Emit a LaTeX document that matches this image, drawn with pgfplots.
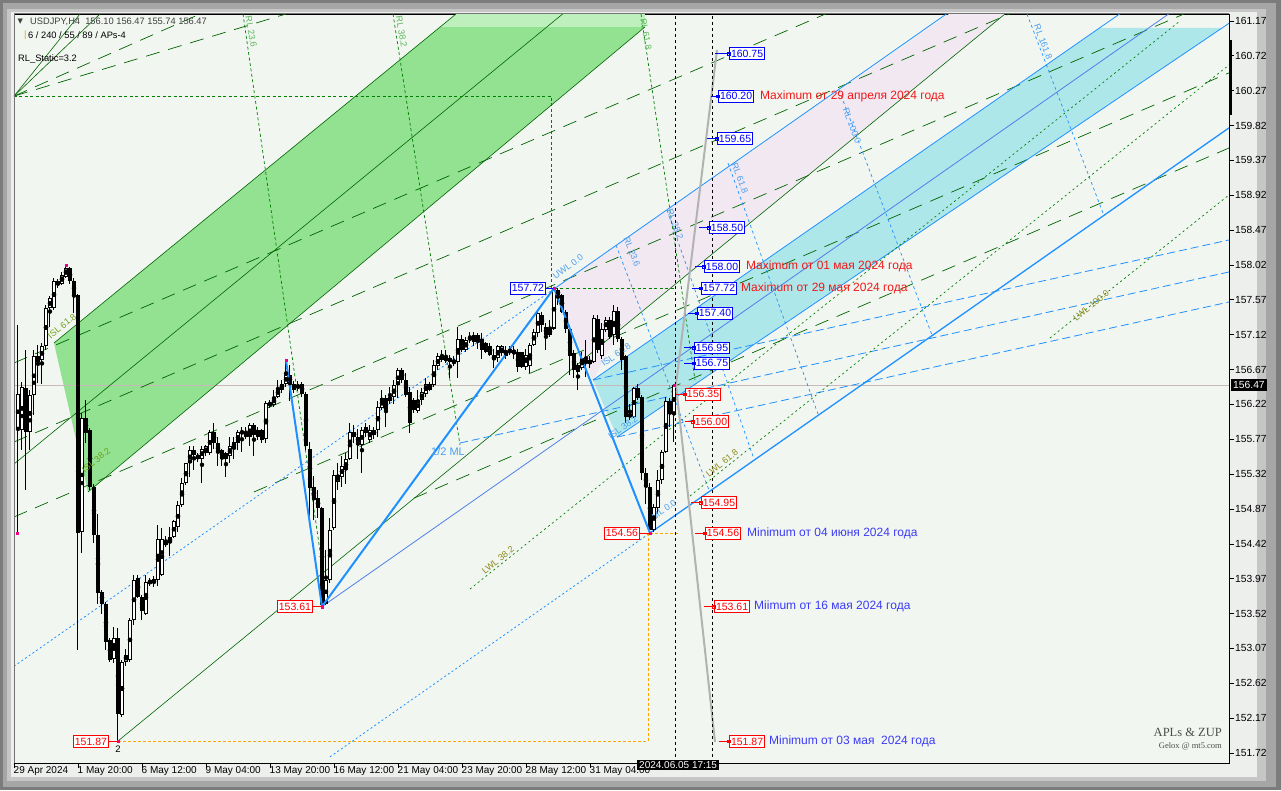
\documentclass[border=0pt]{standalone}
\usepackage{fontspec}
\setmainfont{Liberation Sans}
\newfontfamily\seriffont{Liberation Serif}
\newfontfamily\dejavu{DejaVu Sans}
\usepackage{pgfplots}
\usepackage{pgfplotstable}
\pgfplotsset{compat=1.18}
\newcommand\fs[1]{\fontsize{#1}{#1}\selectfont}
\definecolor{plotbg}{HTML}{F2F6F1}
\definecolor{frameA}{HTML}{7C7C7C}
\definecolor{frameB}{HTML}{A6A6A6}
\definecolor{frameC}{HTML}{C6C6C6}
\definecolor{labelbg}{HTML}{EDEFED}
\definecolor{bandgreen}{HTML}{92E292}
\definecolor{bandgreenlt}{HTML}{BDF0BD}
\definecolor{bandcyan}{HTML}{AEE7EA}
\definecolor{lav}{HTML}{F1E8F2}
\definecolor{dblue}{HTML}{1E90FF}
\definecolor{dgreen}{HTML}{006400}
\definecolor{mgreen}{HTML}{008000}
\definecolor{lgreentext}{HTML}{5CB85C}
\definecolor{olivet}{HTML}{8A8A1A}
\definecolor{lbluetext}{HTML}{4A9FF0}
\definecolor{labblue}{HTML}{0000FF}
\definecolor{labred}{HTML}{FF0000}
\definecolor{txtblue}{HTML}{3B3BF5}
\definecolor{txtred}{HTML}{F01818}
\definecolor{orng}{HTML}{FFA500}
\definecolor{medline}{HTML}{4F7FE8}
\definecolor{curline}{HTML}{C8B8B8}
\definecolor{grayline}{HTML}{B2B2B2}

\pgfplotstableread{
x o h l c
1 155.90 157.25 154.56 156.35
2 155.89 156.51 155.63 156.45
3 156.43 156.92 155.12 155.87
4 155.87 156.40 155.63 156.34
5 156.34 156.92 156.08 156.84
6 156.84 156.99 156.50 156.77
7 156.79 157.01 156.49 156.97
8 156.97 157.50 156.92 157.46
9 157.46 157.62 157.22 157.59
10 157.46 157.85 157.44 157.81
11 157.81 157.84 157.72 157.76
12 157.78 157.93 157.76 157.89
13 157.87 158.02 157.85 157.98
14 157.98 158.00 157.78 157.81
15 157.81 157.85 157.40 157.63
16 157.63 157.65 153.05 154.56
17 154.58 156.11 154.30 156.04
18 156.04 156.28 155.72 155.85
19 155.89 155.92 155.12 155.16
20 155.16 155.20 154.43 154.54
21 154.54 154.81 153.65 153.78
22 153.80 153.82 153.52 153.65
23 153.65 153.67 153.05 153.16
24 153.18 153.20 152.90 152.92
25 152.94 153.35 152.88 153.20
26 153.20 153.33 151.87 152.23
27 152.21 152.92 152.19 152.90
28 152.90 153.07 152.84 152.99
29 152.92 153.46 152.90 153.44
30 153.44 154.02 153.37 153.96
31 153.98 154.02 153.72 153.74
32 153.74 153.76 153.44 153.55
33 153.52 154.02 153.50 153.93
34 153.91 153.98 153.87 153.95
35 153.91 154.00 153.86 153.97
36 153.95 154.66 153.87 154.49
37 154.02 154.62 154.00 154.49
38 154.45 154.52 154.38 154.41
39 154.43 154.64 154.26 154.51
40 154.51 154.73 154.49 154.71
41 154.64 154.97 154.58 154.92
42 154.92 155.27 154.90 155.20
43 155.20 155.46 155.18 155.46
44 155.46 155.68 155.29 155.63
45 155.63 155.68 155.37 155.57
46 155.57 155.60 155.48 155.52
47 155.52 155.68 155.20 155.65
48 155.59 155.70 155.55 155.68
49 155.59 155.89 155.57 155.87
50 155.87 155.98 155.65 155.72
51 155.72 155.80 155.42 155.59
52 155.63 155.65 155.42 155.52
53 155.59 155.61 155.29 155.52
54 155.55 155.80 155.46 155.68
55 155.65 155.80 155.52 155.74
56 155.72 155.89 155.63 155.87
57 155.87 155.93 155.61 155.85
58 155.80 155.93 155.78 155.87
59 155.80 155.98 155.68 155.96
60 155.96 155.98 155.55 155.83
61 155.89 155.93 155.76 155.80
62 155.89 155.91 155.72 155.76
63 155.78 156.26 155.72 156.24
64 156.24 156.28 156.17 156.21
65 156.21 156.41 156.19 156.32
66 156.32 156.54 156.30 156.43
67 156.41 156.54 156.37 156.49
68 156.49 156.79 156.45 156.60
69 156.60 156.73 156.26 156.49
70 156.49 156.52 156.37 156.41
71 156.47 156.52 156.39 156.43
72 156.49 156.51 156.32 156.36
73 156.36 156.38 155.63 155.68
74 155.65 155.74 154.77 155.14
75 155.16 155.29 154.73 154.99
76 155.01 155.12 154.75 154.88
77 154.88 154.90 153.61 153.63
78 153.65 154.34 153.63 153.95
79 153.95 154.75 153.91 154.60
80 154.62 155.37 154.60 155.31
81 155.22 155.46 155.12 155.31
82 155.29 155.55 155.16 155.42
83 155.37 155.59 155.20 155.52
84 155.52 155.98 155.50 155.87
85 155.87 155.95 155.72 155.80
86 155.80 155.91 155.52 155.74
87 155.70 155.93 155.33 155.89
88 155.85 155.98 155.80 155.93
89 155.76 155.95 155.72 155.89
90 155.89 155.93 155.78 155.82
91 155.89 156.26 155.80 156.19
92 156.17 156.41 156.15 156.30
93 156.30 156.34 155.93 156.15
94 156.26 156.45 156.23 156.32
95 156.32 156.54 156.23 156.47
96 156.47 156.69 156.30 156.66
97 156.66 156.69 156.50 156.54
98 156.54 156.62 156.32 156.34
99 156.38 156.45 155.85 155.98
100 156.28 156.30 156.11 156.15
101 156.13 156.41 156.11 156.28
102 156.28 156.43 156.21 156.38
103 156.36 156.56 156.32 156.49
104 156.49 156.51 156.39 156.41
105 156.47 156.79 156.45 156.73
106 156.71 156.88 156.66 156.84
107 156.79 156.92 156.77 156.86
108 156.82 156.92 156.75 156.79
109 156.77 156.86 156.56 156.82
110 156.79 156.84 156.71 156.75
111 156.77 157.22 156.56 157.07
112 157.07 157.12 156.90 156.92
113 156.92 157.09 156.90 157.05
114 157.05 157.16 157.01 157.09
115 157.03 157.16 156.97 157.12
116 157.12 157.14 156.94 157.03
117 157.07 157.14 156.81 156.92
118 157.01 157.03 156.88 156.90
119 156.97 157.01 156.84 156.86
120 156.86 156.94 156.69 156.79
121 156.82 156.99 156.77 156.97
122 156.88 156.99 156.84 156.97
123 156.84 156.97 156.81 156.92
124 156.92 156.97 156.86 156.90
125 156.88 156.97 156.81 156.92
126 156.90 156.94 156.64 156.71
127 156.90 156.90 156.69 156.71
128 156.71 156.94 156.66 156.86
129 156.71 157.01 156.62 156.99
130 156.99 157.20 156.97 157.16
131 157.14 157.44 157.09 157.40
132 157.37 157.42 157.16 157.25
133 157.22 157.27 156.92 157.12
134 157.20 157.31 157.09 157.12
135 157.20 157.72 157.18 157.70
136 157.70 157.72 157.50 157.63
137 157.63 157.65 157.40 157.42
138 157.42 157.44 157.14 157.20
139 157.20 157.24 156.60 156.84
140 156.88 156.92 156.56 156.66
141 156.73 156.75 156.41 156.64
142 156.69 156.90 156.66 156.82
143 156.79 157.05 156.58 156.75
144 156.75 156.84 156.69 156.79
145 156.77 157.37 156.75 157.33
146 157.33 157.37 156.88 156.92
147 156.84 157.27 156.81 157.20
148 157.18 157.35 157.16 157.31
149 157.31 157.35 157.07 157.09
150 157.12 157.50 156.99 157.42
151 157.42 157.48 157.03 157.07
152 157.07 157.09 156.66 156.79
153 156.84 156.86 155.98 156.06
154 156.06 156.23 156.02 156.10
155 156.06 156.45 156.04 156.43
156 156.43 156.49 156.28 156.30
157 156.32 156.34 155.24 155.33
158 155.33 155.40 154.94 155.16
159 155.16 155.20 154.56 154.60
160 154.60 154.94 154.58 154.90
161 154.88 155.37 154.81 155.24
162 155.24 155.63 155.20 155.61
163 155.61 156.32 155.59 156.26
164 156.26 156.30 155.93 156.10
165 156.10 156.47 155.74 156.47
}\candles

\begin{document}
\begin{tikzpicture}
\useasboundingbox (0pt,0pt) rectangle (1281pt,790pt);
\fill[frameA] (0pt,0pt) rectangle (1281pt,790pt);
\fill[frameB] (3pt,3pt) rectangle (1276pt,787pt);
\fill[frameC] (7pt,9pt) rectangle (1266pt,781pt);
\fill[labelbg] (11pt,13pt) rectangle (1257pt,778pt);
\begin{axis}[
  at={(14pt,27pt)}, anchor=south west,
  width=1215pt, height=749pt, scale only axis,
  xmin=0, xmax=303.75, ymin=151.591, ymax=161.26,
  axis background/.style={fill=plotbg},
  axis line style={draw=black, line width=0.8pt},
  xtick={0,16,...,144},
  xticklabels={29 Apr 2024,1 May 20:00,6 May 12:00,9 May 04:00,13 May 20:00,16 May 12:00,21 May 04:00,23 May 20:00,28 May 12:00,31 May 04:00},
  ytick={151.72,152.17,152.62,153.07,153.52,153.97,154.42,154.87,155.32,155.77,156.22,156.67,157.12,157.57,158.02,158.47,158.92,159.37,159.82,160.27,160.72,161.17},
  yticklabels={151.72,152.17,152.62,153.07,153.52,153.97,154.42,154.87,155.32,155.77,156.22,156.67,157.12,157.57,158.02,158.47,158.92,159.37,159.82,160.27,160.72,161.17},
  xtick pos=bottom, ytick pos=right, yticklabel pos=right,
  tick align=outside, major tick length=5pt,
  tick style={black, line width=0.7pt},
  xticklabel style={anchor=north west, font=\fs{10}, inner sep=0pt, xshift=-0.5pt, yshift=2pt},
  yticklabel style={anchor=west, font=\fs{10.3}, inner sep=0pt, xshift=1pt},
  clip=true,
]
% ---------- filled areas
\addplot[fill=lav, draw=none] coordinates {(135.25,157.723)(233.75,161.26)(247.75,161.26)(151.5,157.194)(144.75,156.535)} -- cycle;
\addplot[fill=bandgreen, draw=none] coordinates {(10,157.013)(106.5,161.093)(157.75,161.093)(18.5,155.089)} -- cycle;
\addplot[fill=bandgreenlt, draw=none] coordinates {(106.5,161.093)(110.5,161.26)(157.75,161.26)(157.75,161.093)} -- cycle;
\addplot[fill=bandcyan, draw=none] coordinates {(144.75,156.535)(271.5,161.08)(302,161.08)(150.75,155.799)} -- cycle;
% ---------- current price line
\addplot[curline, line width=0.8pt] coordinates {(0,156.47)(303.75,156.47)};
% ---------- green long-dashed lines
\addplot[dgreen, line width=0.7pt, dash pattern=on 14pt off 9pt] coordinates {(0,156.755)(303.75,163.5)};
\addplot[dgreen, line width=0.7pt, dash pattern=on 14pt off 9pt] coordinates {(0,155.735)(303.75,162.48)};
\addplot[dgreen, line width=0.7pt, dash pattern=on 14pt off 9pt] coordinates {(0,154.767)(303.75,161.51)};
\addplot[dgreen, line width=0.7pt, dash pattern=on 14pt off 9pt] coordinates {(60,155.09)(303.75,160.50)};
\addplot[dgreen, line width=0.7pt, dash pattern=on 14pt off 9pt] coordinates {(100,155.01)(303.75,159.53)};
\addplot[dgreen, line width=0.7pt, dash pattern=on 14pt off 9pt] coordinates {(0,160.20)(46.5,161.26)};
\addplot[dgreen, line width=0.7pt, dash pattern=on 14pt off 9pt] coordinates {(0,160.20)(68,161.26)};
% ---------- green solid thin lines
\addplot[dgreen, line width=0.6pt] coordinates {(0,160.20)(16.5,161.26)};
\addplot[dgreen, line width=0.6pt] coordinates {(0,160.20)(21.5,161.26)};
\addplot[dgreen, line width=0.6pt] coordinates {(10,157.013)(110.5,161.26)};
\addplot[dgreen, line width=0.6pt] coordinates {(18.5,155.089)(157.75,161.093)};
\addplot[dgreen, line width=0.6pt] coordinates {(0,155.45)(140,161.38)};
\addplot[dgreen, line width=0.6pt] coordinates {(26,151.875)(247.75,161.26)};
% ---------- blue pitchfork
\addplot[medline, line width=0.8pt] coordinates {(77,153.61)(300,161.67)};
\addplot[dblue, line width=0.8pt, dash pattern=on 2pt off 2.5pt] coordinates {(0,152.84)(135.25,157.72)};
\addplot[dblue, line width=0.8pt] coordinates {(135.25,157.72)(240,161.51)};
\addplot[dblue, line width=0.8pt, dash pattern=on 2pt off 2.5pt] coordinates {(79,151.67)(159,154.56)};
\addplot[dblue, line width=1.3pt] coordinates {(159,154.56)(303.75,159.79)};
\addplot[dblue, line width=0.8pt] coordinates {(144.75,156.535)(276.4,161.26)};
\addplot[dblue, line width=0.8pt] coordinates {(150.75,155.799)(303.75,161.14)};
\addplot[dblue, line width=0.8pt, dash pattern=on 8pt off 4pt] coordinates {(144.75,156.535)(303.75,158.343)};
\addplot[dblue, line width=0.8pt, dash pattern=on 8pt off 4pt] coordinates {(111.5,155.722)(303.75,157.93)};
\addplot[dblue, line width=0.8pt, dash pattern=on 8pt off 4pt] coordinates {(150.75,155.799)(303.75,157.542)};
% RL lines (blue short dashes)
\addplot[dblue, line width=0.7pt, dash pattern=on 3pt off 3pt] coordinates {(150.5,158.278)(173.75,155.115)};
\addplot[dblue, line width=0.7pt, dash pattern=on 3pt off 3pt] coordinates {(163.25,158.730)(185,155.515)};
\addplot[dblue, line width=0.7pt, dash pattern=on 3pt off 3pt] coordinates {(178.5,159.337)(201,156.097)};
\addplot[dblue, line width=0.7pt, dash pattern=on 3pt off 3pt] coordinates {(206.25,160.279)(229.5,157.116)};
\addplot[dblue, line width=0.7pt, dash pattern=on 3pt off 3pt] coordinates {(253.25,161.26)(272.25,158.691)};
% ---------- green short dashed
\addplot[mgreen, line width=0.7pt, dash pattern=on 3pt off 2.5pt] coordinates {(57.25,161.26)(78.25,153.695)};
\addplot[mgreen, line width=0.7pt, dash pattern=on 3pt off 2.5pt] coordinates {(94.75,161.26)(111.5,155.696)};
\addplot[mgreen, line width=0.7pt, dash pattern=on 3pt off 2.5pt] coordinates {(156.75,161.26)(170.25,156.535)};
\addplot[mgreen, line width=0.7pt, dash pattern=on 3pt off 2.5pt] coordinates {(0,160.202)(134.25,160.202)(134.25,157.723)};
\addplot[mgreen, line width=0.7pt, dash pattern=on 3pt off 2.5pt] coordinates {(135.25,157.72)(165.25,157.72)};
% LWL dotted
\addplot[mgreen, line width=0.7pt, dash pattern=on 2pt off 3pt] coordinates {(114,153.837)(291.5,161.17)};
\addplot[mgreen, line width=0.7pt, dash pattern=on 2pt off 3pt] coordinates {(169,155.038)(303.75,160.602)};
\addplot[mgreen, line width=0.7pt, dash pattern=on 2pt off 3pt] coordinates {(259,157.077)(303.75,158.924)};
% ---------- orange dashed
\addplot[orng, line width=0.8pt, dash pattern=on 3pt off 2pt] coordinates {(26,151.87)(158.5,151.87)(158.5,154.56)};
\addplot[orng, line width=0.8pt, dash pattern=on 3pt off 2pt] coordinates {(159,154.56)(166.5,154.56)};
% ---------- candles
\addplot[only marks, mark=none, error bars/.cd, y dir=both, y explicit, error mark=none,
  error bar style={black, line width=1pt}]
  table[x=x, y expr={(\thisrow{h}+\thisrow{l})/2}, y error expr={(\thisrow{h}-\thisrow{l})/2}] {\candles};
\addplot[only marks, mark=none, error bars/.cd, y dir=both, y explicit, error mark=none,
  error bar style={black, line width=3.2pt}]
  table[x=x, y expr={(\thisrow{o}+\thisrow{c})/2}, y error expr={max(abs(\thisrow{c}-\thisrow{o})/2,0.007)}] {\candles};
\addplot[only marks, mark=none, error bars/.cd, y dir=both, y explicit, error mark=none,
  error bar style={white, line width=1.2pt}]
  table[x=x, y expr={(\thisrow{o}+\thisrow{c})/2}, y error expr={max((\thisrow{c}-\thisrow{o})/2-0.013,0)}] {\candles};
% ---------- zigzag
\addplot[dblue, line width=2pt] coordinates {(68,156.79)(77,153.61)(135,157.72)(159,154.56)};
% pivot markers
\addplot[only marks, mark=square*, mark size=1.2pt, magenta] coordinates {(13,158.02)(68,156.79)(135,157.72)(0.75,154.56)(26,151.87)(77,153.61)(159,154.56)(165,156.47)};
% ---------- gray line & verticals
\addplot[grayline, line width=2pt] coordinates {(175.75,160.796)(165.5,156.471)(175.25,151.862)};
\addplot[black, line width=0.8pt, dash pattern=on 3pt off 3pt] coordinates {(165.25,151.591)(165.25,161.26)};
\addplot[black, line width=0.8pt, dash pattern=on 3pt off 3pt] coordinates {(174.5,151.591)(174.5,161.26)};
% ---------- leaders
\addplot[labblue, line width=0.8pt, unbounded coords=jump] coordinates {
 (175.25,160.75)(178.75,160.75)(178,nan)
 (174.25,160.20)(176,160.20)(176,nan)
 (173.25,159.65)(175.75,159.65)(175,nan)
 (171.25,158.50)(173.75,158.50)(173,nan)
 (170.25,158.00)(172.5,158.00)(172,nan)
 (169.5,157.72)(171.75,157.72)(171,nan)
 (168.5,157.40)(170.75,157.40)(170,nan)
 (167.5,156.95)(170,156.95)(170,nan)
 (167.5,156.75)(170,156.75)(170,nan)
 (133,157.72)(135.25,157.72)};
\addplot[only marks, mark=square, mark size=1.3pt, labblue] coordinates {
 (178.75,160.75)(176,160.20)(175.75,159.65)(173.75,158.50)(172.5,158.00)(171.75,157.72)(170.75,157.40)(170,156.95)(170,156.75)};
\addplot[labred, line width=0.8pt, unbounded coords=jump] coordinates {
 (165.5,156.35)(167.75,156.35)(167,nan)
 (167.75,156.00)(169.75,156.00)(169,nan)
 (169.25,154.95)(171.75,154.95)(171,nan)
 (170.25,154.56)(172.75,154.56)(172,nan)
 (172.5,153.61)(175,153.61)(175,nan)
 (176.25,151.87)(178.75,151.87)(178,nan)
 (23.75,151.87)(26,151.87)(26,nan)
 (74.75,153.61)(77,153.61)(77,nan)
 (156.5,154.56)(159,154.56)};
\addplot[only marks, mark=square, mark size=1.3pt, labred] coordinates {
 (167.75,156.35)(169.75,156.00)(171.75,154.95)(172.75,154.56)(175,153.61)(178.75,151.87)};
% ---------- price boxes
\tikzset{pbox/.style={fill=white, inner xsep=1.6pt, inner ysep=2.2pt, font=\fs{10.5}, line width=0.8pt}}
\node[pbox, draw=labblue, text=labblue, anchor=west] at (178.75,160.75) {160.75};
\node[pbox, draw=labblue, text=labblue, anchor=west] at (176,160.20) {160.20};
\node[pbox, draw=labblue, text=labblue, anchor=west] at (175.75,159.65) {159.65};
\node[pbox, draw=labblue, text=labblue, anchor=west] at (173.75,158.50) {158.50};
\node[pbox, draw=labblue, text=labblue, anchor=west] at (172.5,158.00) {158.00};
\node[pbox, draw=labblue, text=labblue, anchor=west] at (171.75,157.72) {157.72};
\node[pbox, draw=labblue, text=labblue, anchor=west] at (170.75,157.40) {157.40};
\node[pbox, draw=labblue, text=labblue, anchor=west] at (170,156.95) {156.95};
\node[pbox, draw=labblue, text=labblue, anchor=west] at (170,156.75) {156.75};
\node[pbox, draw=labblue, text=labblue, anchor=east] at (133,157.72) {157.72};
\node[pbox, draw=labred, text=labred, anchor=west] at (167.75,156.35) {156.35};
\node[pbox, draw=labred, text=labred, anchor=west] at (169.75,156.00) {156.00};
\node[pbox, draw=labred, text=labred, anchor=west] at (171.75,154.95) {154.95};
\node[pbox, draw=labred, text=labred, anchor=west] at (172.75,154.56) {154.56};
\node[pbox, draw=labred, text=labred, anchor=west] at (175,153.61) {153.61};
\node[pbox, draw=labred, text=labred, anchor=west] at (178.75,151.87) {151.87};
\node[pbox, draw=labred, text=labred, anchor=east] at (23.75,151.87) {151.87};
\node[pbox, draw=labred, text=labred, anchor=east] at (74.75,153.61) {153.61};
\node[pbox, draw=labred, text=labred, anchor=east] at (156.5,154.56) {154.56};
% ---------- annotations
\node[anchor=west, text=txtred, font=\fs{12}, inner sep=0pt] at (186.5,160.20) {Maximum от 29 апреля 2024 года};
\node[anchor=west, text=txtred, font=\fs{12}, inner sep=0pt] at (183,158.00) {Maximum от 01 мая 2024 года};
\node[anchor=west, text=txtred, font=\fs{12}, inner sep=0pt] at (181.75,157.72) {Maximum от 29 мая 2024 года};
\node[anchor=west, text=txtblue, font=\fs{12}, inner sep=0pt] at (183.25,154.56) {Minimum от 04 июня 2024 года};
\node[anchor=west, text=txtblue, font=\fs{12}, inner sep=0pt] at (185,153.61) {Miimum от 16 мая 2024 года};
\node[anchor=west, text=txtblue, font=\fs{12}, inner sep=0pt] at (188.75,151.87) {Minimum от 03 мая\ \ 2024 года};
% ---------- header texts
\node[font=\dejavu\fs{7}, text=black!75, inner sep=0pt] at (1.6,161.157) {▼};
\node[anchor=west, font=\fs{9.3}, text=black!75, inner sep=0pt] at (4,161.157) {USDJPY,H4\ \ 156.10 156.47 155.74 156.47};
\node[anchor=west, font=\fs{9.3}, text=orange!80!yellow, inner sep=0pt] at (2.5,160.989) {|};
\node[anchor=west, font=\fs{9.3}, text=black, inner sep=0pt] at (3.5,160.989) {6 / 240 / 55 / 89 / APs-4};
\node[anchor=west, font=\fs{9.3}, text=black, inner sep=0pt] at (1,160.679) {RL\_Static=3.2};
\node[anchor=east, font=\seriffont\fs{12.5}, text=black!70, inner sep=0pt] at (302,151.991) {APLs \& ZUP};
\node[anchor=east, font=\seriffont\fs{8.5}, text=black!70, inner sep=0pt] at (302,151.81) {Gelox @ mt5.com};
\node[font=\fs{9.5}, inner sep=0pt] at (26,151.77) {2};
% ---------- line labels
\node[rotate=-80, text=lgreentext, font=\fs{9}, inner sep=0pt] at (59.3,161.03) {RL 23.6};
\node[rotate=-80, text=lgreentext, font=\fs{9}, inner sep=0pt] at (96.9,161.03) {RL 38.2};
\node[rotate=-80, text=lgreentext, font=\fs{9}, inner sep=0pt] at (158,161.0) {RL 61.8};
\node[rotate=39, text=olivet!80!green, font=\fs{9}, inner sep=0pt] at (12,157.23) {ISL 61.8};
\node[rotate=39, text=olivet!80!green, font=\fs{9}, inner sep=0pt] at (20.5,155.5) {ISL 38.2};
\node[rotate=36, text=lbluetext, font=\fs{9}, inner sep=0pt] at (138.5,158.0) {UWL 0.0};
\node[rotate=-69, text=lbluetext, font=\fs{9}, inner sep=0pt] at (154.5,158.19) {RL 23.6};
\node[rotate=-69, text=lbluetext, font=\fs{9}, inner sep=0pt] at (165.3,158.55) {RL 38.2};
\node[rotate=-69, text=lbluetext, font=\fs{9}, inner sep=0pt] at (181.5,159.14) {RL 61.8};
\node[rotate=-69, text=lbluetext, font=\fs{9}, inner sep=0pt] at (209.5,159.82) {RL 100.0};
\node[rotate=-69, text=lbluetext, font=\fs{9}, inner sep=0pt] at (257.3,160.90) {RL 161.8};
\node[text=lbluetext, font=\fs{11}, inner sep=0pt] at (108.5,155.605) {1/2 ML};
\node[rotate=35, text=lbluetext, font=\fs{9}, inner sep=0pt] at (150.5,156.86) {ISL 61.8};
\node[rotate=35, text=lbluetext, font=\fs{9}, inner sep=0pt] at (152.2,155.92) {ISL 38.2};
\node[rotate=35, text=lbluetext, font=\fs{9}, inner sep=0pt] at (162.5,154.86) {ML 0.0};
\node[rotate=39, text=olivet, font=\fs{9}, inner sep=0pt] at (121,154.21) {LWL 38.2};
\node[rotate=39, text=olivet, font=\fs{9}, inner sep=0pt] at (177,155.46) {LWL 61.8};
\node[rotate=39, text=olivet, font=\fs{9}, inner sep=0pt] at (269.3,157.50) {LWL 100.0};
\end{axis}
% frame overlays
\draw[color=black!55, line width=1pt] (14pt,27pt) -- (14pt,776pt) -- (1229pt,776pt);
\draw[line width=3pt] (1230.5pt,750pt) -- (1230.5pt,675pt);
\node[fill=black, text=white, font=\fs{10.3}, inner xsep=2pt, inner ysep=2pt, anchor=west] at (1231pt,405pt) {156.47};
\node[fill=black, text=white, font=\fs{10}, inner xsep=2pt, inner ysep=1.5pt, anchor=north west] at (637pt,30pt) {2024.06.05 17:15};
\end{tikzpicture}
\end{document}
